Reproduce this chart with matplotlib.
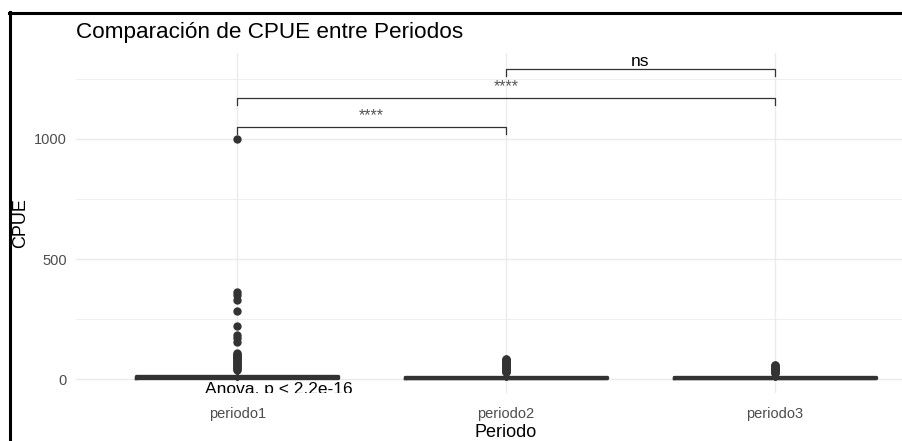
import matplotlib

matplotlib.use("Agg")
import matplotlib.pyplot as plt
from matplotlib.lines import Line2D

plt.rcParams["font.family"] = ["Liberation Sans", "DejaVu Sans"]

# categories and box statistics (flat boxes near zero)
periodos = ["periodo1", "periodo2", "periodo3"]
q1 = [4, 3, 3]
medians = [7, 6, 6]
q3 = [12, 9, 9]
whisker_lo = [0, 0, 0]
whisker_hi = [35, 24, 22]

# outliers
outliers_p1 = [1000, 362, 350, 329, 283, 221, 185, 172, 155, 110, 106, 102,
               98, 94, 90, 86, 82, 78, 74, 70, 66, 62, 58, 54, 50, 46, 42, 38]
outliers_p2 = [85, 82, 79, 76, 73, 70, 67, 64, 61, 58, 55, 52, 49, 46, 43,
               40, 37, 34, 31, 28]
outliers_p3 = [60, 57, 54, 51, 48, 45, 42, 39, 36, 33, 30, 27, 24]

# pairwise comparisons: (group a, group b, bracket height, label)
comp_a = [1, 1, 2]
comp_b = [2, 3, 3]
comp_y = [1050, 1171, 1292]
comp_labels = ["****", "****", "ns"]

anova_label = "Anova, p < 2.2e-16"

fig = plt.figure(figsize=(9.03, 4.41), dpi=100)
ax = fig.add_axes([76 / 903, 1 - 393 / 441, 860 / 903, 340 / 441])

stats = []
outs = [outliers_p1, outliers_p2, outliers_p3]
for i in range(3):
    stats.append({
        "med": medians[i], "q1": q1[i], "q3": q3[i],
        "whislo": whisker_lo[i], "whishi": whisker_hi[i],
        "fliers": outs[i],
    })

dark = "#333333"
ax.bxp(
    stats, positions=[1, 2, 3], widths=0.75, showcaps=False,
    boxprops=dict(color=dark, linewidth=2.4),
    medianprops=dict(color=dark, linewidth=2.4),
    whiskerprops=dict(color=dark, linewidth=2.0),
    flierprops=dict(marker="o", markerfacecolor=dark, markeredgecolor=dark,
                    markersize=5),
    zorder=3,
)

# brackets
tip = 30
for a, b, y, lab in zip(comp_a, comp_b, comp_y, comp_labels):
    ax.plot([a, a, b, b], [y - tip, y, y, y - tip], color=dark, lw=0.9,
            zorder=3)
    if lab == "ns":
        ax.text((a + b) / 2, y + 13, lab, ha="center", va="baseline",
                fontsize=12.5, color="black")
    else:
        ax.text((a + b) / 2, y + 30, lab, ha="center", va="baseline",
                fontsize=11.5, color="#555555")

ax.text(0.88, -64, anova_label, ha="left", va="baseline", fontsize=12.5,
        clip_on=True)

ax.set_xlim(0.4, 3.6)
ax.set_ylim(-58, 1358)
ax.set_xticks([1, 2, 3])
ax.set_xticklabels(periodos)
ax.set_yticks([0, 500, 1000])
ax.set_yticks([250, 750, 1250], minor=True)
ax.grid(True, which="major", color="#EBEBEB", lw=1.0)
ax.grid(True, which="minor", axis="y", color="#EBEBEB", lw=0.6)
ax.set_axisbelow(True)
ax.tick_params(which="both", length=0, colors="#4D4D4D", labelsize=10.5)
ax.tick_params(axis="x", pad=10)
ax.tick_params(axis="y", pad=6.5)
for s in ax.spines.values():
    s.set_visible(False)

ax.set_xlabel("Periodo", fontsize=13, va="center")
ax.set_ylabel("CPUE", fontsize=13, va="center")
ax.xaxis.set_label_coords(0.5, -0.116)
ax.yaxis.set_label_coords((20.5 - 76) / 860, 0.5)

fig.text(76 / 903, 1 - 38 / 441, "Comparación de CPUE entre Periodos",
         fontsize=16.2, ha="left", va="baseline")

# screenshot frame on left and top
fig.add_artist(Line2D([9.7 / 903, 9.7 / 903], [0, 1 - 11.5 / 441],
                      transform=fig.transFigure, color="black", lw=2.2))
fig.add_artist(Line2D([8.6 / 903, 1], [1 - 13 / 441, 1 - 13 / 441],
                      transform=fig.transFigure, color="black", lw=2.2))

fig.savefig("out.png", dpi=100)
